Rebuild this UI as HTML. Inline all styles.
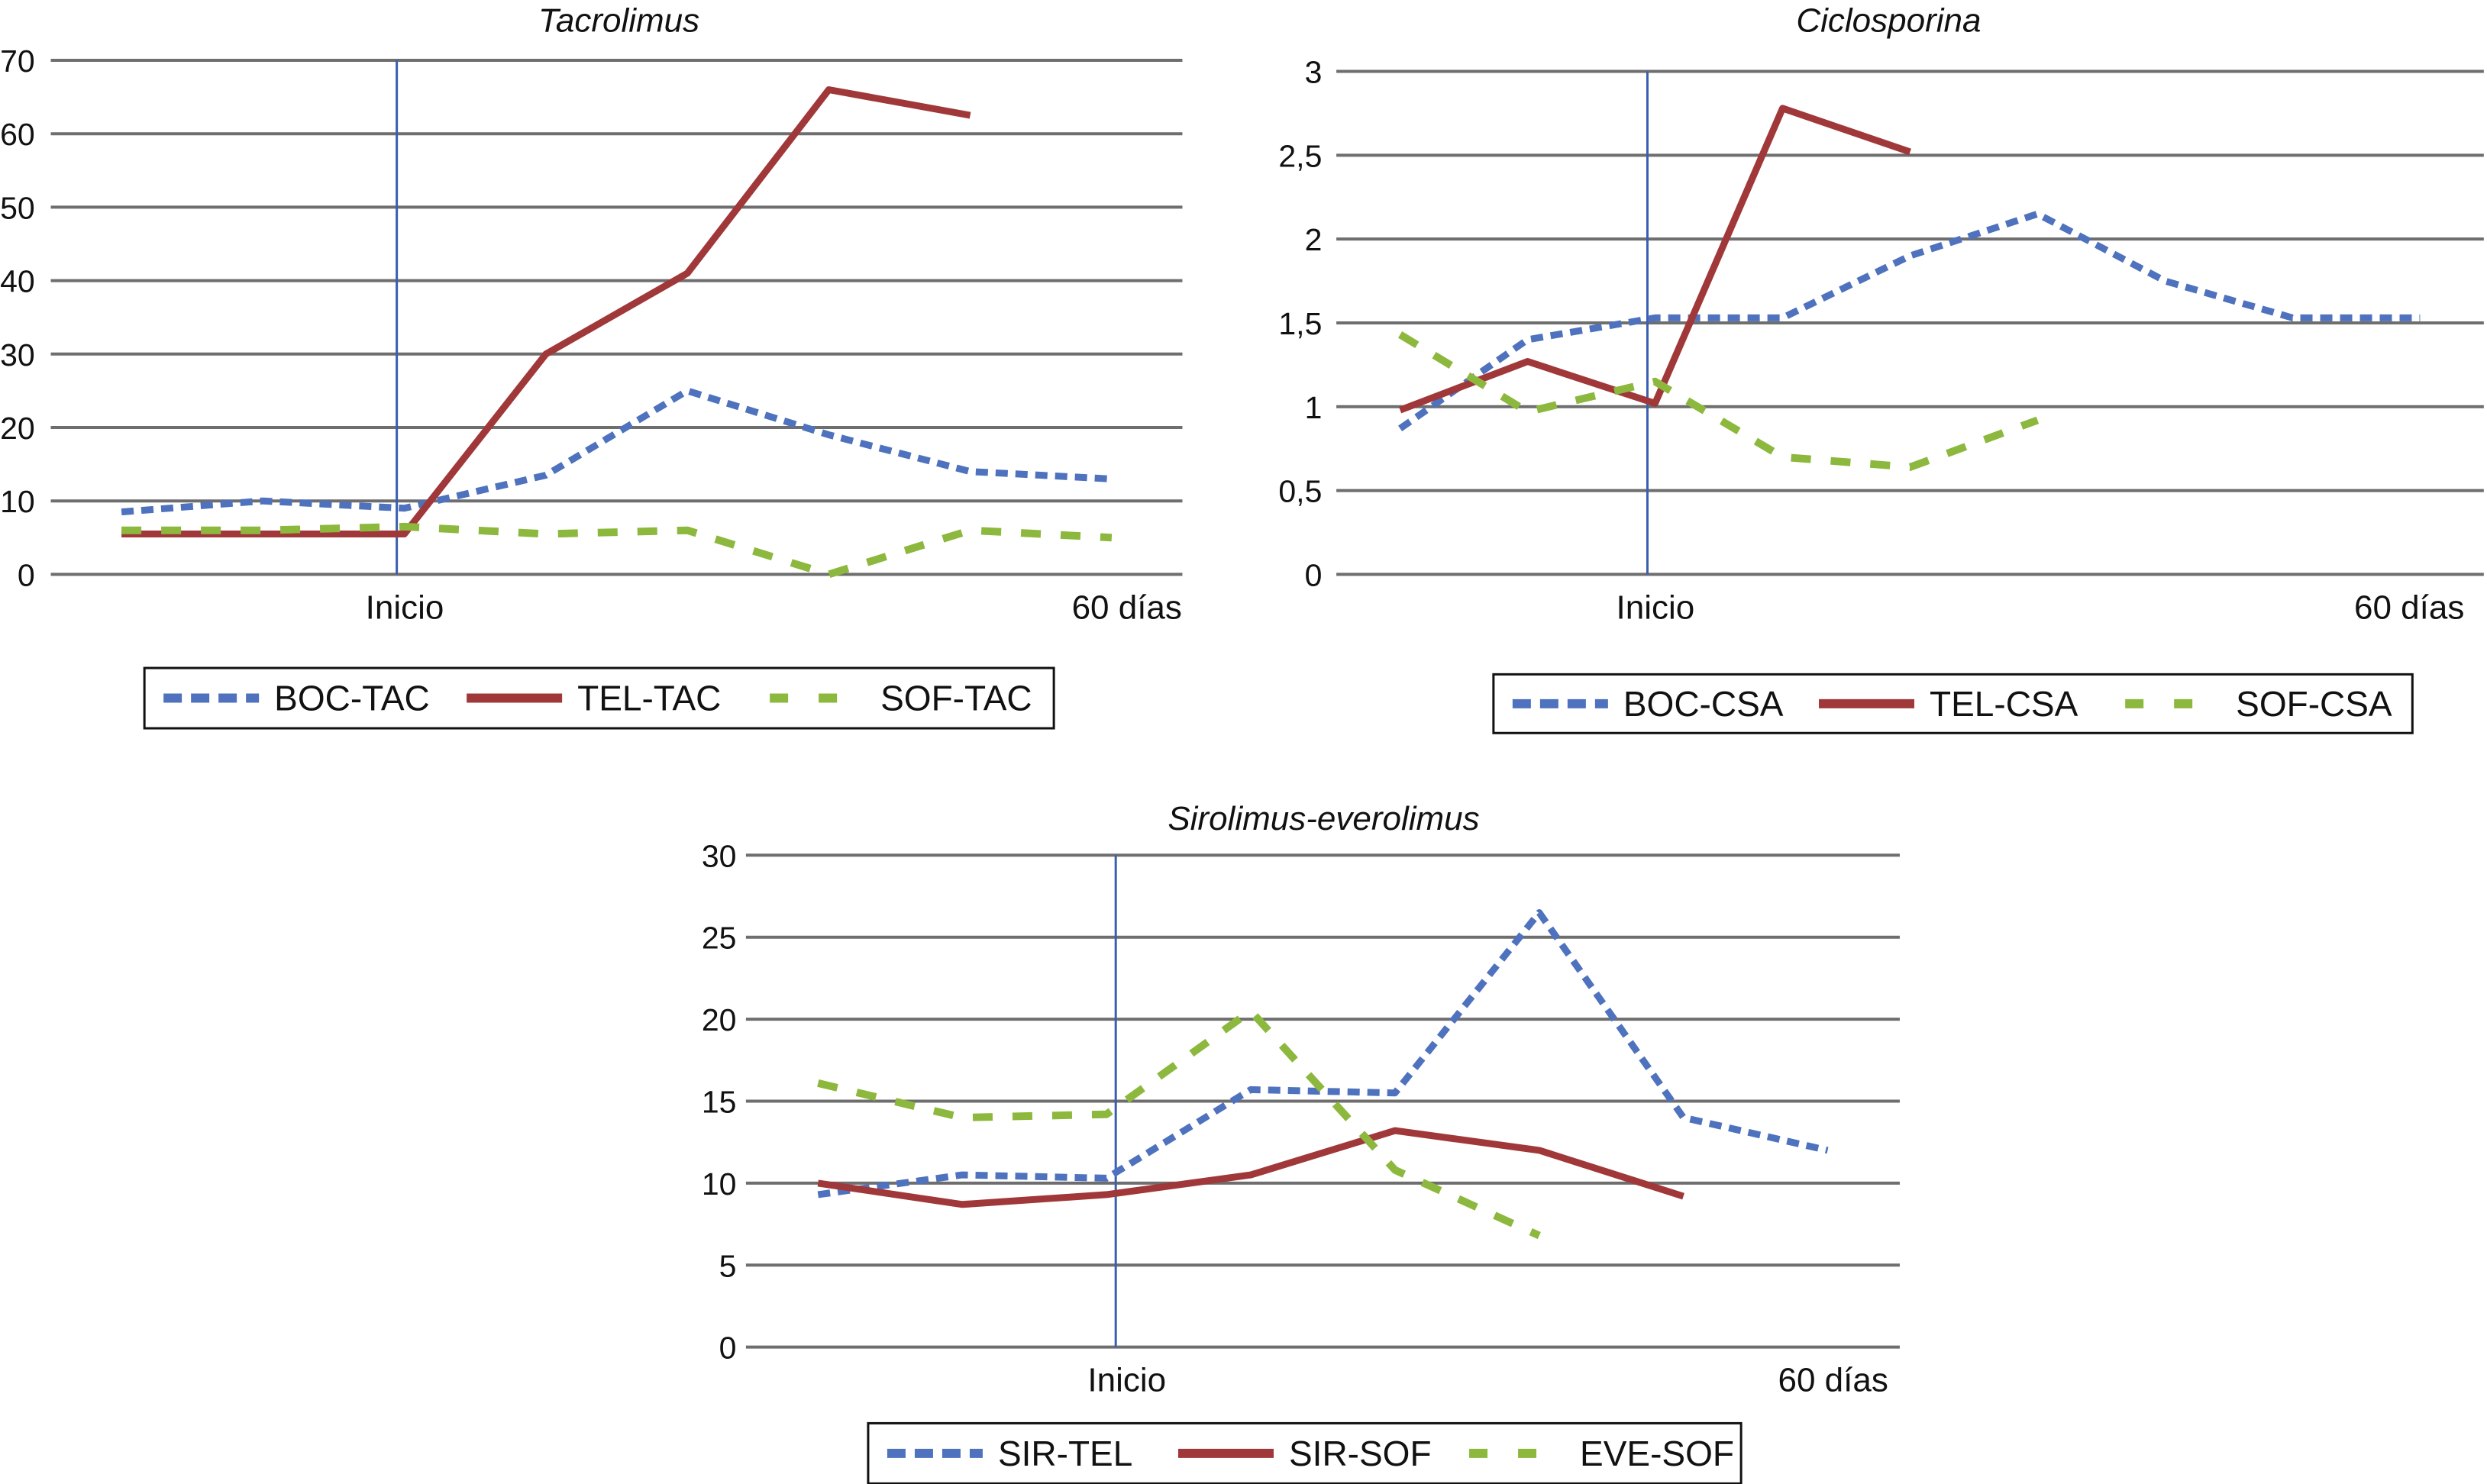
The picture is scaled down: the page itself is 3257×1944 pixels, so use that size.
<!DOCTYPE html>
<html><head><meta charset="utf-8"><style>
html,body{margin:0;padding:0;background:#fff;}
svg{display:block;font-family:"Liberation Sans",sans-serif;}
</style></head><body>
<svg id="chart" width="3257" height="1944" viewBox="0 0 3257 1944" xmlns="http://www.w3.org/2000/svg"></svg>
<script>
// ---- Data ----
const tacCategories = ["1","2","Inicio","4","5","6","7","60 días"];
const tacBOC = [8.5, 10, 9, 13.5, 25, 19, 14, 13];
const tacTEL = [5.5, 5.5, 5.5, 30, 41, 66, 62.5, null];
const tacSOF = [6, 6, 6.5, 5.5, 6, 0, 6, 5];
const tacTicks = ["0","10","20","30","40","50","60","70"];

const csaCategories = ["1","2","Inicio","4","5","6","7","8","60 días"];
const csaBOC = [0.87, 1.4, 1.53, 1.53, 1.9, 2.15, 1.75, 1.53, 1.53];
const csaTEL = [0.98, 1.27, 1.02, 2.78, 2.52, null, null, null, null];
const csaSOF = [1.43, 0.97, 1.15, 0.7, 0.64, 0.92, null, null, null];
const csaTicks = ["0","0,5","1","1,5","2","2,5","3"];

const sirCategories = ["1","2","Inicio","4","5","6","7","60 días"];
const sirTEL = [9.3, 10.5, 10.3, 15.7, 15.5, 26.5, 14, 12];
const sirSOF = [10, 8.7, 9.3, 10.5, 13.2, 12, 9.2, null];
const eveSOF = [16.1, 14, 14.2, 20.5, 10.8, 6.8, null, null];
const sirTicks = ["0","5","10","15","20","25","30"];

const NS = "http://www.w3.org/2000/svg";
const svg = document.getElementById("chart");
const S = 2.0785;
const BLUE = "#4f72be", RED = "#a0383a", GREEN = "#8db83e";

function mk(tag, attrs, parent) {
  const e = document.createElementNS(NS, tag);
  for (const k in attrs) e.setAttribute(k, attrs[k]);
  (parent || svg).appendChild(e);
  return e;
}

function drawChart(cfg) {
  const g = mk("g", {});
  
  
  const L = cfg.left * S, R = cfg.right * S, Y0 = cfg.y0 * S, YT = cfg.yTop * S;
  const n = cfg.categories.length;
  const step = (R - L) / n;
  const xs = i => L + step * (i + 0.5);
  const ys = v => Y0 - (v - 0) / cfg.max * (Y0 - YT);

  const t = mk("text", {x: cfg.titleX * S, y: cfg.titleY * S, "font-size": 44, "font-style": "italic", "text-anchor": "middle", fill: "#111"}, g);
  t.textContent = cfg.title;
  
  

  cfg.ticks.forEach((lab, i) => {
    const v = cfg.max * i / (cfg.ticks.length - 1);
    const y = ys(v);
    const gl = mk("line", {x1: L, x2: R, y1: y, y2: y, stroke: "#6e6e6e", "stroke-width": 4}, g);
    
    
    const tl = mk("text", {x: cfg.tickX * S, y: y + 15, "font-size": 41, "text-anchor": "end", fill: "#111"}, g);
    tl.textContent = lab;
    
    
  });

  const vx = cfg.vLine * S;
  const vl = mk("line", {x1: vx, x2: vx, y1: YT, y2: Y0, stroke: "#3a5fb0", "stroke-width": 3}, g);
  
  

  const xl1 = mk("text", {x: cfg.inicioX * S, y: Y0 + 58, "font-size": 44, "text-anchor": "middle", fill: "#111"}, g);
  xl1.textContent = cfg.categories[2];
  
  
  const xl2 = mk("text", {x: cfg.endX * S, y: Y0 + 58, "font-size": 44, "text-anchor": "middle", fill: "#111"}, g);
  xl2.textContent = cfg.categories[n - 1];
  
  

  cfg.series.forEach(s => {
    const pts = [];
    s.data.forEach((v, i) => { if (v !== null) pts.push(xs(i).toFixed(1) + "," + ys(v).toFixed(1)); });
    const p = mk("polyline", {points: pts.join(" "), fill: "none", stroke: s.color, "stroke-width": s.w, "stroke-linejoin": "round"}, g);
    if (s.dash) p.setAttribute("stroke-dasharray", s.dash);
    
    
  });

  const lx = cfg.leg[0] * S, ly = cfg.leg[1] * S, lw = (cfg.leg[2] - cfg.leg[0]) * S, lh = (cfg.leg[3] - cfg.leg[1]) * S;
  const lg = mk("g", {}, g);
  
  
  mk("rect", {x: lx, y: ly, width: lw, height: lh, fill: "#fff", stroke: "#111", "stroke-width": 3}, lg);
  const seg = lw / 3;
  cfg.series.forEach((s, i) => {
    const ex = lx + 25 + seg * i, cy = ly + lh / 2;
    const e = mk("g", {}, lg);
    
    
    const ln = mk("line", {x1: ex, x2: ex + 125, y1: cy, y2: cy, stroke: s.color, "stroke-width": 12}, e);
    if (s.dash) ln.setAttribute("stroke-dasharray", s.legDash);
    const tx = mk("text", {x: ex + 145, y: cy + 16, "font-size": 46, fill: "#111"}, e);
    tx.textContent = s.label;
  });
}

drawChart({name: "tacrolimus-chart", title: "Tacrolimus", titleX: 390, titleY: 20,
  left: 32, right: 745, y0: 362, yTop: 38, max: 70, tickX: 22, vLine: 250, inicioX: 255, endX: 710,
  categories: tacCategories, ticks: tacTicks, leg: [91, 421, 664, 459],
  series: [
    {label: "BOC-TAC", data: tacBOC, color: BLUE, w: 9, dash: "16 10", legDash: "24 12"},
    {label: "TEL-TAC", data: tacTEL, color: RED, w: 9},
    {label: "SOF-TAC", data: tacSOF, color: GREEN, w: 10, dash: "26 26", legDash: "24 40"}
  ]});

drawChart({name: "ciclosporina-chart", title: "Ciclosporina", titleX: 1190, titleY: 20,
  left: 842, right: 1565, y0: 362, yTop: 45, max: 3, tickX: 833, vLine: 1038, inicioX: 1043, endX: 1518,
  categories: csaCategories, ticks: csaTicks, leg: [941, 425, 1520, 462],
  series: [
    {label: "BOC-CSA", data: csaBOC, color: BLUE, w: 9, dash: "16 10", legDash: "24 12"},
    {label: "TEL-CSA", data: csaTEL, color: RED, w: 9},
    {label: "SOF-CSA", data: csaSOF, color: GREEN, w: 10, dash: "26 26", legDash: "24 40"}
  ]});

drawChart({name: "sirolimus-everolimus-chart", title: "Sirolimus-everolimus", titleX: 834, titleY: 523,
  left: 470, right: 1197, y0: 849, yTop: 539, max: 30, tickX: 464, vLine: 703, inicioX: 710, endX: 1155,
  categories: sirCategories, ticks: sirTicks, leg: [547, 897, 1097, 935],
  series: [
    {label: "SIR-TEL", data: sirTEL, color: BLUE, w: 9, dash: "16 10", legDash: "24 12"},
    {label: "SIR-SOF", data: sirSOF, color: RED, w: 9},
    {label: "EVE-SOF", data: eveSOF, color: GREEN, w: 10, dash: "26 26", legDash: "24 40"}
  ]});
</script>
</body></html>
